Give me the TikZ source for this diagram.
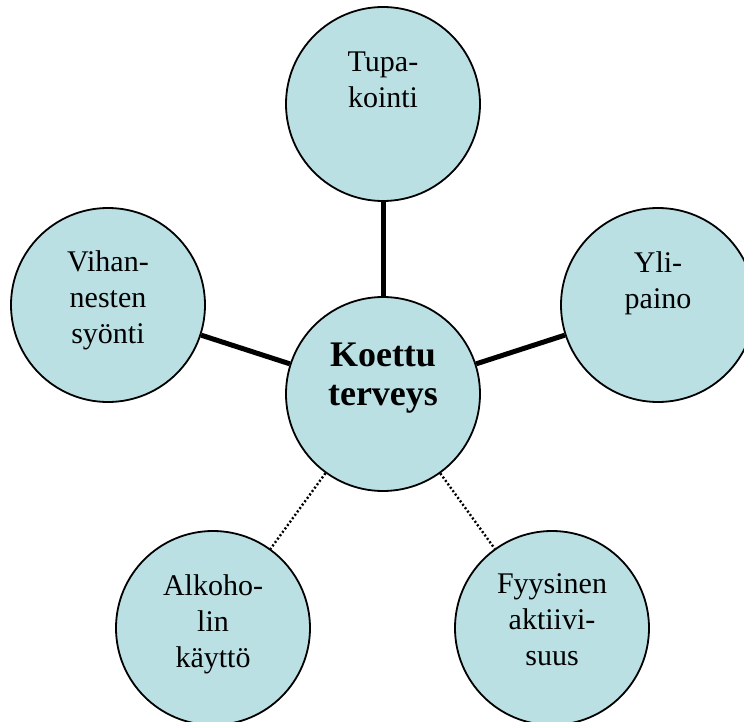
\documentclass[tikz,border=0pt]{standalone}
\usepackage{fontspec}
\setmainfont{Liberation Serif}
\definecolor{circfill}{RGB}{186,224,227}
\begin{document}
\begin{tikzpicture}[x=1pt,y=-1pt,
  circ/.style={circle,draw=black,line width=1.8pt,fill=circfill,minimum size=194pt,inner sep=0pt},
  lbl/.style={anchor=north,inner sep=0pt,align=center,font=\fontsize{30}{36}\selectfont},
  lblbold/.style={anchor=north,inner sep=0pt,align=center,font=\fontsize{36}{39}\selectfont\bfseries},
  solidlink/.style={line width=5pt},
  dotlink/.style={line width=2.4pt,dash pattern=on 2pt off 2.2pt}]
\clip (0,0) rectangle (744,722);
\useasboundingbox (0,0) rectangle (744,722);
% circles
\node[circ] (top) at (383,104) {};
\node[circ] (mid) at (383,394) {};
\node[circ] (right) at (658,305) {};
\node[circ] (left) at (108,305) {};
\node[circ] (bl) at (213,628) {};
\node[circ] (br) at (552,628) {};
% connectors
\draw[solidlink] (mid) -- (top);
\draw[solidlink] (mid) -- (right);
\draw[solidlink] (mid) -- (left);
\draw[dotlink] (mid) -- (bl);
\draw[dotlink] (mid) -- (br);
% labels (first baseline = y + 28)
\node[lbl] (ttop) at (383,43) {\rule{0pt}{28pt}Tupa-\\kointi};
\node[lblbold] (tmid) at (383,338) {\rule{0pt}{28pt}Koettu\\terveys};
\node[lbl] (tright) at (658,244) {\rule{0pt}{28pt}Yli-\\paino};
\node[lbl] (tleft) at (108,243) {\rule{0pt}{28pt}Vihan-\\nesten\\syönti};
\node[lbl] (tbl) at (213,567) {\rule{0pt}{28pt}Alkoho-\\lin\\käyttö};
\node[lbl] (tbr) at (552,565) {\rule{0pt}{28pt}Fyysinen\\aktiivi-\\suus};
\end{tikzpicture}
\end{document}
